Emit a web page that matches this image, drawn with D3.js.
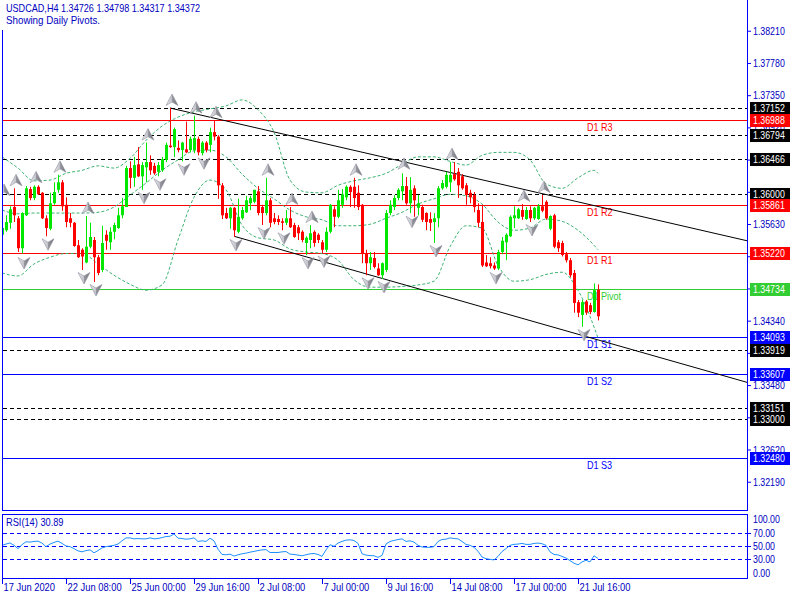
<!DOCTYPE html>
<html><head><meta charset="utf-8">
<script src="https://cdn.jsdelivr.net/npm/d3@7"></script>
<style>
html,body{margin:0;padding:0;background:#fff;}
svg{display:block;}
text{font-family:"Liberation Sans",Arial,sans-serif;font-size:11px;}
</style></head><body>
<svg id="c" width="800" height="600"></svg>
<script>
// ---------- DATA ----------
const headerText = "USDCAD,H4  1.34726 1.34798 1.34317 1.34372";
const subText = "Showing Daily Pivots.";
const open = [
1.3546,1.3552,1.3562,1.3583,1.3568,1.3528,1.3572,1.3607,1.3595,1.3610,
1.3602,1.3568,1.3554,1.3588,1.3606,1.3616,1.3586,1.3568,1.3562,1.3532,
1.3526,1.3509,1.3530,1.3539,1.3516,1.3499,1.3546,1.3536,1.3550,1.3555,
1.3572,1.3583,1.3635,1.3622,1.3640,1.3624,1.3636,1.3643,1.3638,1.3630,
1.3632,1.3646,1.3665,1.3663,1.3662,1.3659,1.3660,1.3659,1.3659,1.3674,
1.3655,1.3669,1.3666,1.3683,1.3677,1.3612,1.3575,1.3568,1.3582,1.3550,
1.3568,1.3576,1.3588,1.3590,1.3604,1.3583,1.3575,1.3592,1.3568,1.3567,
1.3564,1.3562,1.3568,1.3559,1.3556,1.3550,1.3535,1.3539,1.3550,1.3546,
1.3536,1.3526,1.3550,1.3580,1.3570,1.3586,1.3596,1.3610,1.3610,1.3602,
1.3586,1.3521,1.3508,1.3515,1.3501,1.3492,1.3499,1.3575,1.3583,1.3595,
1.3604,1.3611,1.3588,1.3608,1.3582,1.3583,1.3575,1.3567,1.3563,1.3568,
1.3608,1.3610,1.3616,1.3627,1.3630,1.3624,1.3612,1.3602,1.3599,1.3579,
1.3563,1.3509,1.3508,1.3505,1.3501,1.3523,1.3536,1.3544,1.3568,1.3568,
1.3579,1.3567,1.3579,1.3568,1.3567,1.3584,1.3590,1.3554,1.3572,1.3536,
1.3535,1.3520,1.3512,1.3495,1.3456,1.3439,1.3457,1.3452,1.3443,1.34726];
const high = [
1.3562,1.3572,1.3584,1.3608,1.3571,1.3576,1.3611,1.3610,1.3612,1.3612,
1.3603,1.3572,1.3602,1.3616,1.3626,1.3619,1.3596,1.3575,1.3563,1.3539,
1.3528,1.3571,1.3562,1.3543,1.3519,1.3558,1.3552,1.3556,1.3562,1.3582,
1.3595,1.3638,1.3644,1.3650,1.3663,1.3643,1.3669,1.3652,1.3642,1.3643,
1.3650,1.3669,1.37152,1.3689,1.3672,1.3670,1.3697,1.3677,1.3705,1.3677,
1.3671,1.3671,1.3689,1.3699,1.3679,1.3615,1.3582,1.3583,1.3583,1.3594,
1.3583,1.3598,1.3598,1.3606,1.3611,1.3586,1.3622,1.3595,1.3575,1.3572,
1.3568,1.3579,1.3583,1.3562,1.3559,1.3552,1.3544,1.3559,1.3552,1.3548,
1.3539,1.3556,1.3587,1.3584,1.3606,1.3607,1.3612,1.3612,1.3622,1.3612,
1.3587,1.3526,1.3523,1.3523,1.3508,1.3509,1.3579,1.3592,1.3599,1.3608,
1.3628,1.3623,1.3623,1.3612,1.3599,1.3586,1.3576,1.3576,1.3575,1.3611,
1.3619,1.3630,1.3643,1.3643,1.3635,1.3627,1.3615,1.3606,1.3603,1.3588,
1.3586,1.3519,1.3516,1.3509,1.3526,1.3543,1.3548,1.3572,1.3584,1.3582,
1.3587,1.3583,1.3584,1.3583,1.3587,1.3599,1.3592,1.3572,1.3574,1.3539,
1.3538,1.3523,1.3515,1.3499,1.3459,1.3459,1.3459,1.3455,1.3481,1.34798];
const low = [
1.3535,1.3550,1.3554,1.3563,1.3523,1.3521,1.3571,1.3592,1.3592,1.3599,
1.3567,1.3544,1.3552,1.3586,1.3602,1.3578,1.3556,1.3556,1.3530,1.3515,
1.3499,1.3508,1.3528,1.3483,1.3492,1.3496,1.3526,1.3526,1.3540,1.3554,
1.3568,1.3583,1.3608,1.3610,1.3623,1.3606,1.3616,1.3626,1.3626,1.3624,
1.3630,1.3643,1.3662,1.3650,1.3656,1.3644,1.3655,1.3656,1.3655,1.3652,
1.3652,1.3656,1.3656,1.3672,1.3594,1.3567,1.3567,1.3554,1.3543,1.3548,
1.3566,1.3575,1.3579,1.3588,1.3572,1.3559,1.3572,1.3556,1.3560,1.3559,
1.3552,1.3559,1.3555,1.3542,1.3539,1.3536,1.3519,1.3528,1.3530,1.3535,
1.3521,1.3523,1.3548,1.3556,1.3568,1.3582,1.3592,1.3583,1.3582,1.3579,
1.3508,1.3492,1.3499,1.3501,1.3491,1.3487,1.3496,1.3572,1.3579,1.3592,
1.3592,1.3586,1.3575,1.3570,1.3572,1.3563,1.3552,1.3551,1.3535,1.3556,
1.3606,1.3608,1.3603,1.3618,1.3595,1.3606,1.3586,1.3588,1.3576,1.3556,
1.3503,1.3503,1.3501,1.3499,1.3499,1.3520,1.3512,1.3543,1.3555,1.3567,
1.3566,1.3566,1.3563,1.3566,1.3566,1.3576,1.3566,1.3552,1.3528,1.3523,
1.3517,1.3509,1.3489,1.3442,1.3436,1.3423,1.3439,1.3440,1.3442,1.34317];
const close = [
1.3555,1.3563,1.3580,1.3572,1.3528,1.3575,1.3608,1.3595,1.3610,1.3600,
1.3568,1.3555,1.3588,1.3603,1.3616,1.3584,1.3563,1.3562,1.3531,1.3516,
1.3517,1.3530,1.3543,1.3516,1.3495,1.3535,1.3538,1.3550,1.3559,1.3572,
1.3584,1.3635,1.3622,1.3639,1.3624,1.3639,1.3643,1.3632,1.3628,1.3639,
1.3647,1.3666,1.3663,1.3687,1.3659,1.3669,1.3656,1.3674,1.3675,1.3656,
1.3669,1.3659,1.3683,1.3677,1.3612,1.3572,1.3568,1.3582,1.3552,1.3570,
1.3579,1.3592,1.3595,1.3606,1.3575,1.3575,1.3592,1.3562,1.3563,1.3563,
1.3562,1.3568,1.3556,1.3543,1.3548,1.3539,1.3542,1.3548,1.3535,1.3539,
1.3526,1.3550,1.3586,1.3570,1.3592,1.3600,1.3610,1.3603,1.3595,1.3583,
1.3521,1.3508,1.3516,1.3503,1.3492,1.3508,1.3575,1.3586,1.3595,1.3606,
1.3611,1.3588,1.3606,1.3592,1.3588,1.3566,1.3563,1.3562,1.3568,1.3608,
1.3615,1.3626,1.3626,1.3620,1.3612,1.3608,1.3599,1.3596,1.3583,1.3562,
1.3505,1.3504,1.3504,1.3501,1.3523,1.3538,1.3546,1.3570,1.3572,1.3580,
1.3570,1.3579,1.3568,1.3582,1.3584,1.3578,1.3568,1.3571,1.3530,1.3528,
1.3519,1.3512,1.3492,1.3455,1.3442,1.3456,1.3442,1.3443,1.3472,1.34372];
const rsi = [
51,53,54.7,51,46,52,56.5,56,57,57.5,
54.5,49,53,55.5,57.5,54,50,49,46,42.5,
41,43,44,39.5,43,47,49,50,51,53,
58,62.5,62.5,61,61.5,61,61,62.5,61,61.5,
63,64.5,65,68.5,62,61.5,60.5,61,62.5,57,
58,57,62,58,45,37,36.5,37.5,34.5,36.5,
38,39,40.5,41.7,43,44,44.5,40,40,40,
41,41.5,37.5,37,36,35,36.5,38,38.5,37,
34,44,52,49.5,54.5,57,59,59.5,58.5,54,
38,36,35.2,35,32.5,35.5,53,57,58.5,60,
61,57,58,56,51,48.5,48,48,49,57,
60,60.5,62.5,61.5,61,57,52.5,51,48,42,
33,30.5,29.5,28.5,34,41.5,46,51,52.5,53,
54,52.5,52.5,54,54.5,53.5,51,41,37,36.3,
34,31.5,27.5,23.5,21,25.5,28,25.5,35,30.89];
const rsiLabel = "RSI(14) 30.89";
// Bollinger bands (at these bars)
const bbIdx = [0,4,8,12,16,20,24,28,32,36,40,44,48,52,56,60,64,68,72,76,80,84,88,92,96,100,104,108,112,116,120,124,128,132,136,140,144,148,149];
const bbUpper = [1.3650,1.3635,1.3618,1.3619,1.3628,1.3632,1.3638,1.3635,1.3648,1.3672,1.3691,1.3703,1.3710,1.3714,1.3718,1.3726,1.3713,1.3683,1.3619,1.3603,1.3602,1.3612,1.3618,1.3622,1.3628,1.3640,1.3650,1.3650,1.3644,1.3639,1.3652,1.3656,1.3656,1.3646,1.3614,1.3608,1.3622,1.3632,1.3628];
const bbMiddle = [1.3579,1.3574,1.3575,1.3575,1.3575,1.3575,1.3576,1.3583,1.3599,1.3615,1.3632,1.3646,1.3658,1.3659,1.3650,1.3627,1.3608,1.3594,1.3579,1.3570,1.3566,1.3558,1.3558,1.3560,1.3568,1.3576,1.3587,1.3594,1.3600,1.3598,1.3587,1.3563,1.3552,1.3555,1.3567,1.3564,1.3552,1.3532,1.3526];
const bbLower = [1.3495,1.3491,1.3507,1.3516,1.3521,1.3521,1.3507,1.3492,1.3480,1.3472,1.3479,1.3539,1.3596,1.3619,1.3606,1.3559,1.3542,1.3539,1.3527,1.3523,1.3521,1.3512,1.3486,1.3476,1.3476,1.3477,1.3479,1.3484,1.3530,1.3558,1.3555,1.3505,1.3484,1.3486,1.3493,1.3496,1.3472,1.3423,1.3408];
// Fractals
const upIdx = [0,3,8,14,21,36,42,48,53,66,72,77,88,100,112,130,135];
const upPrice = [1.3595,1.3608,1.3612,1.3626,1.3571,1.3669,1.37152,1.3705,1.3699,1.3622,1.3583,1.3559,1.3622,1.3630,1.3643,1.3587,1.3599];
const dnIdx = [5,11,20,23,35,39,45,50,58,65,70,76,80,91,95,102,108,123,132,145];
const dnPrice = [1.3519,1.3544,1.3499,1.3483,1.3606,1.3624,1.3644,1.3652,1.3543,1.3559,1.3552,1.3519,1.3521,1.3492,1.3487,1.3574,1.3535,1.3499,1.3563,1.3423];
// Trend channel (bar index, price)
const trendUpper = [[42,1.37152],[186.25,1.3538]];
const trendLower = [[58,1.3544],[186.25,1.3349]];
// Levels
const dashedLevels = [1.37152,1.36794,1.36466,1.36000,1.33919,1.33151,1.33000];
const pivotNames = ["D1 R3","D1 R2","D1 R1","D1 Pivot","D1 S1","D1 S2","D1 S3"];
const pivotValues = [1.36988,1.35861,1.35220,1.34734,1.34093,1.33607,1.32480];
const pivotKinds = ["R","R","R","P","S","S","S"];
const priceTicks = [1.38210,1.37780,1.37350,1.36920,1.36490,1.36060,1.35630,1.35200,1.34770,1.34340,1.33910,1.33480,1.33050,1.32620,1.32190];
const timeIdx = [0,16,32,48,64,80,96,112,128,144];
const timeLabels = ["17 Jun 2020","22 Jun 08:00","25 Jun 00:00","29 Jun 16:00","2 Jul 08:00","7 Jul 00:00","9 Jul 16:00","14 Jul 08:00","17 Jul 00:00","21 Jul 16:00"];
const rsiTicks = [100,70,50,30,0];

// ---------- DRAW ----------
const BLUE = "#0000ff", TXT = "#0000c0";
const GREEN_C = "#00e800", RED_C = "#ff0000";
const kindColor = {R:"#ff0000", P:"#32cd32", S:"#0000ff"};
const svg = d3.select("#c");
const N = close.length;
const xS = d3.scaleLinear().domain([0, 186.25]).range([2, 747]);
const yS = d3.scaleLinear().domain([1.31786, 1.38567]).range([510, 2]);
const rS = d3.scaleLinear().domain([0, 100]).range([578.5, 513.5]);
const px = v => Math.round(v) + 0.5;
function condense(sel, f){
  sel.each(function(){
    const L = this.getComputedTextLength();
    this.setAttribute("textLength", (L*f).toFixed(1));
    this.setAttribute("lengthAdjust","spacingAndGlyphs");
  });
}

const defs = svg.append("defs");
defs.append("clipPath").attr("id","mc").append("rect").attr("x",3).attr("y",0).attr("width",744).attr("height",510);
defs.append("clipPath").attr("id","rc").append("rect").attr("x",3).attr("y",515).attr("width",744).attr("height",63);
const gr = defs.append("linearGradient").attr("id","fg").attr("x1","0").attr("x2","1").attr("y1","0").attr("y2","0");
gr.append("stop").attr("offset","0").attr("stop-color","#ececf0");
gr.append("stop").attr("offset","0.5").attr("stop-color","#c0c0c8");
gr.append("stop").attr("offset","0.51").attr("stop-color","#9898a0");
gr.append("stop").attr("offset","1").attr("stop-color","#707078");

// header
const h1 = svg.append("text").attr("x",6).attr("y",12).attr("fill",TXT).text(headerText);
const h2 = svg.append("text").attr("x",6).attr("y",24).attr("fill",TXT).text(subText);

const main = svg.append("g").attr("clip-path","url(#mc)");

// dashed black levels
main.selectAll("line.dl").data(dashedLevels).join("line").attr("class","dl")
  .attr("x1",3).attr("x2",747).attr("y1",d=>px(yS(d))).attr("y2",d=>px(yS(d)))
  .attr("stroke","#000").attr("stroke-dasharray","4,3");
// pivot lines
main.selectAll("line.pl").data(pivotValues).join("line").attr("class","pl")
  .attr("x1",3).attr("x2",747).attr("y1",d=>px(yS(d))).attr("y2",d=>px(yS(d)))
  .attr("stroke",(d,i)=>kindColor[pivotKinds[i]]);
const pivotText = main.selectAll("text.pt").data(pivotValues).join("text").attr("class","pt")
  .attr("x",587).attr("y",d=>Math.round(yS(d))+11)
  .attr("fill",(d,i)=>kindColor[pivotKinds[i]]).text((d,i)=>pivotNames[i]);

// Bollinger bands
const bandLine = d3.line().x(d=>xS(d[0])).y(d=>yS(d[1])).curve(d3.curveMonotoneX);
[bbUpper,bbMiddle,bbLower].forEach(arr=>{
  main.append("path").datum(bbIdx.map((k,j)=>[k,arr[j]]))
    .attr("d",bandLine).attr("fill","none").attr("stroke","#3cb371")
    .attr("stroke-width",1).attr("stroke-dasharray","3,2");
});

// trend channel
[trendUpper,trendLower].forEach(t=>{
  main.append("line").attr("x1",xS(t[0][0])).attr("y1",yS(t[0][1]))
    .attr("x2",xS(t[1][0])).attr("y2",yS(t[1][1]))
    .attr("stroke","#000").attr("stroke-width",1);
});

// candles
const cg = main.append("g");
const idx = d3.range(N);
cg.selectAll("line.w").data(idx).join("line").attr("class","w")
  .attr("x1",i=>Math.round(xS(i))+0.5).attr("x2",i=>Math.round(xS(i))+0.5)
  .attr("y1",i=>yS(high[i])).attr("y2",i=>yS(low[i]))
  .attr("stroke",i=>close[i]>=open[i]?GREEN_C:RED_C);
cg.selectAll("rect.b").data(idx).join("rect").attr("class","b")
  .attr("x",i=>Math.round(xS(i))-1).attr("width",3)
  .attr("y",i=>yS(Math.max(open[i],close[i])))
  .attr("height",i=>Math.max(1,Math.abs(yS(open[i])-yS(close[i]))))
  .attr("fill",i=>close[i]>=open[i]?GREEN_C:RED_C);

// fractals
const upPath = "M0,-6 L6,5.5 L0,2 L-6,5.5 Z";
const dnPath = "M0,6 L6,-5.5 L0,-2 L-6,-5.5 Z";
main.selectAll("path.fu").data(upIdx).join("path").attr("class","fu")
  .attr("d",upPath).attr("transform",(d,j)=>`translate(${xS(d)+2},${yS(upPrice[j])-8})`)
  .attr("fill","url(#fg)").attr("stroke","#9090a0").attr("stroke-width",0.6);
main.selectAll("path.fd").data(dnIdx).join("path").attr("class","fd")
  .attr("d",dnPath).attr("transform",(d,j)=>`translate(${xS(d)+2},${yS(dnPrice[j])+8})`)
  .attr("fill","url(#fg)").attr("stroke","#9090a0").attr("stroke-width",0.6);

// borders main
svg.append("line").attr("x1",2.5).attr("x2",2.5).attr("y1",30).attr("y2",511).attr("stroke",BLUE);
svg.append("line").attr("x1",747.5).attr("x2",747.5).attr("y1",0).attr("y2",511).attr("stroke",BLUE);
svg.append("line").attr("x1",2).attr("x2",748).attr("y1",510.5).attr("y2",510.5).attr("stroke",BLUE);

// price axis
const pAxis = d3.axisRight(yS).tickValues(priceTicks).tickSize(4).tickSizeOuter(0).tickFormat(d3.format(".5f"));
const ga = svg.append("g").attr("transform","translate(747,2)").call(pAxis);
ga.select(".domain").remove();
ga.selectAll(".tick line").attr("stroke",BLUE);
ga.selectAll(".tick text").attr("fill",TXT).attr("x",6);

// level boxes on axis
const boxes = dashedLevels.map(v=>({v,c:"#000"})).concat(pivotValues.map((v,i)=>({v,c:kindColor[pivotKinds[i]]})));
const bg = svg.append("g");
bg.selectAll("rect").data(boxes).join("rect")
  .attr("x",750).attr("width",40).attr("y",d=>Math.round(yS(d.v))-6).attr("height",13).attr("fill",d=>d.c);
const boxText = bg.selectAll("text").data(boxes).join("text")
  .attr("x",753).attr("y",d=>Math.round(yS(d.v))+4).attr("fill","#fff").text(d=>d3.format(".5f")(d.v));

// RSI pane
svg.append("rect").attr("x",2.5).attr("y",514.5).attr("width",745).attr("height",64).attr("fill","none").attr("stroke",BLUE);
const rg = svg.append("g").attr("clip-path","url(#rc)");
rg.selectAll("line.rl").data([70,50,30]).join("line").attr("class","rl")
  .attr("x1",3).attr("x2",747).attr("y1",d=>px(rS(d))).attr("y2",d=>px(rS(d)))
  .attr("stroke",BLUE).attr("stroke-dasharray","4,3");
rg.append("path").datum(rsi).attr("d",d3.line().x((d,i)=>xS(i)).y(d=>rS(d)))
  .attr("fill","none").attr("stroke","#1e90ff").attr("stroke-width",1);
const rl = svg.append("text").attr("x",6).attr("y",526).attr("fill",TXT).text(rsiLabel);
const rAxis = d3.axisRight(rS).tickValues(rsiTicks).tickSize(4).tickSizeOuter(0).tickFormat(d3.format(".2f"));
const gra = svg.append("g").attr("transform","translate(747,0)").call(rAxis);
gra.select(".domain").remove();
gra.selectAll(".tick line").attr("stroke",BLUE).attr("display",d=>(d===100||d===0)?"none":null);
gra.selectAll(".tick text").attr("fill",TXT).attr("x",6)
  .attr("y",d=>d===100?5.5:(d===0?-5.5:0));

// time axis
const tAxis = d3.axisBottom(xS).tickValues(timeIdx).tickSize(5).tickSizeOuter(0).tickFormat((d,i)=>timeLabels[i]);
const gt = svg.append("g").attr("transform","translate(0,579)").call(tAxis);
gt.select(".domain").remove();
gt.selectAll(".tick line").attr("stroke",BLUE);
gt.selectAll(".tick text").attr("fill",TXT).attr("text-anchor","start").attr("x",1).attr("y",4);

// narrow the text like the terminal font
condense(ga.selectAll(".tick text"), 0.8);
condense(gra.selectAll(".tick text"), 0.8);
condense(boxText, 0.8);
condense(gt.selectAll(".tick text"), 0.85);
condense(pivotText, 0.82);
condense(rl, 0.84);
h1.attr("textLength",194).attr("lengthAdjust","spacingAndGlyphs");
h2.attr("textLength",94).attr("lengthAdjust","spacingAndGlyphs");
</script>
</body></html>
